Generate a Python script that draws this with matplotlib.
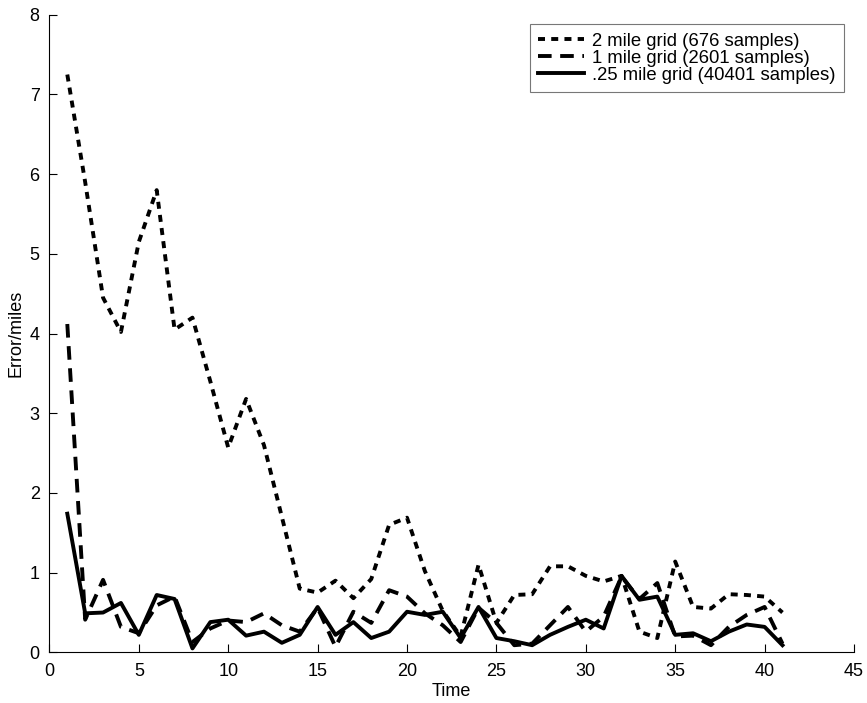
import matplotlib
matplotlib.use("Agg")
import matplotlib.pyplot as plt

plt.rcParams['font.family'] = ['Liberation Sans', 'DejaVu Sans']

time = list(range(1, 42))

err_2mile = [7.25, 5.9, 4.45, 4.02, 5.15, 5.8, 4.05, 4.2, 3.4, 2.57,
             3.18, 2.6, 1.7, 0.8, 0.75, 0.9, 0.68, 0.92, 1.6, 1.69,
             1.02, 0.52, 0.2, 1.1, 0.37, 0.72, 0.73, 1.08, 1.08, 0.96,
             0.89, 0.96, 0.26, 0.18, 1.14, 0.57, 0.55, 0.73, 0.72, 0.70,
             0.5]

err_1mile = [4.12, 0.41, 0.91, 0.32, 0.24, 0.59, 0.70, 0.13, 0.30, 0.40,
             0.38, 0.49, 0.34, 0.26, 0.56, 0.07, 0.51, 0.37, 0.78, 0.70,
             0.49, 0.34, 0.13, 0.56, 0.37, 0.09, 0.11, 0.34, 0.57, 0.26,
             0.45, 0.95, 0.67, 0.87, 0.20, 0.21, 0.09, 0.32, 0.47, 0.57,
             0.11]

err_quarter = [1.74, 0.49, 0.50, 0.62, 0.22, 0.72, 0.67, 0.05, 0.38, 0.41,
               0.21, 0.26, 0.12, 0.22, 0.57, 0.22, 0.38, 0.18, 0.26, 0.51,
               0.47, 0.51, 0.18, 0.57, 0.18, 0.14, 0.09, 0.22, 0.32, 0.41,
               0.30, 0.96, 0.66, 0.70, 0.22, 0.24, 0.14, 0.26, 0.35, 0.32,
               0.09]

labels = ['2 mile grid (676 samples)', '1 mile grid (2601 samples)',
          '.25 mile grid (40401 samples)']

fig = plt.figure(figsize=(8.67, 7.03), dpi=100)
ax = fig.add_axes([0.057, 0.072, 0.928, 0.907])

lw = 2.8
ax.plot(time, err_2mile, color='black', lw=lw, dashes=(1.8, 1.6), label=labels[0])
ax.plot(time, err_1mile, color='black', lw=lw, dashes=(3.5, 2.2), label=labels[1])
ax.plot(time, err_quarter, color='black', lw=lw, linestyle='-', label=labels[2])

ax.set_xlim(0, 45)
ax.set_ylim(0, 8)
ax.set_xticks(range(0, 46, 5))
ax.set_yticks(range(0, 9))
ax.spines['top'].set_visible(False)
ax.spines['right'].set_visible(False)
for s in ('left', 'bottom'):
    ax.spines[s].set_linewidth(0.8)
ax.tick_params(direction='in', length=6, width=0.8, labelsize=13)
ax.tick_params(axis='x', pad=8)
ax.tick_params(axis='y', pad=7)
ax.set_xlabel('Time', fontsize=13, labelpad=2)
ax.set_ylabel('Error/miles', fontsize=13, labelpad=4)

leg = ax.legend(loc='upper right', bbox_to_anchor=(0.987, 0.985), fontsize=13.3,
                frameon=True, fancybox=False, edgecolor='#555555',
                handlelength=2.5, handletextpad=0.4, labelspacing=0.0,
                borderpad=0.45, borderaxespad=0)
leg.get_frame().set_linewidth(0.8)

fig.savefig('out.png', dpi=100)
